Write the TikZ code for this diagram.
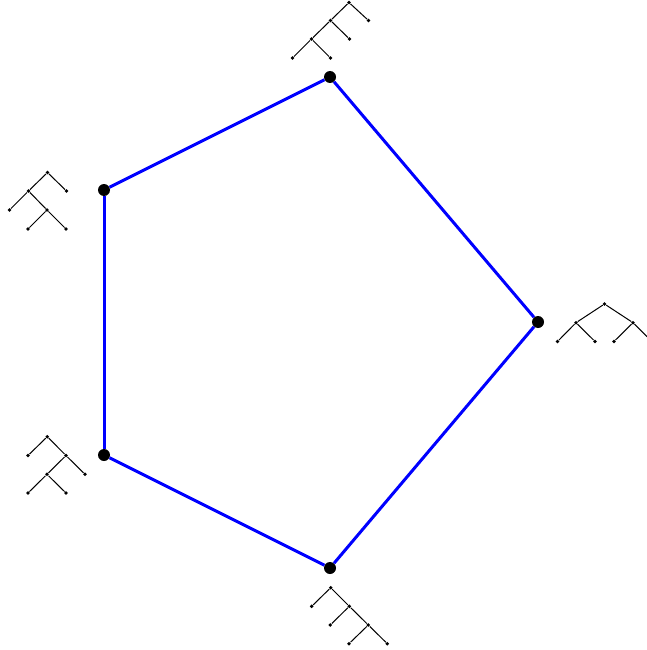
\documentclass[tikz,border=0pt]{standalone}
\begin{document}
\begin{tikzpicture}[x=1pt,y=-1pt,
  tdot/.style={circle,fill=black,inner sep=0pt,minimum size=3.8pt},
  vdot/.style={circle,fill=black,inner sep=0pt,minimum size=12pt},
  tedge/.style={draw=black,line width=1pt},
  pedge/.style={draw=blue,line width=3pt}]
\useasboundingbox (0,0) rectangle (647,650);
% pentagon vertices
\node[vdot] (v1) at (330,77) {};
\node[vdot] (v2) at (104,190) {};
\node[vdot] (v3) at (104,455) {};
\node[vdot] (v4) at (330,568) {};
\node[vdot] (v5) at (538,322) {};
\path[pedge] (v1) -- (v2);
\path[pedge] (v2) -- (v3);
\path[pedge] (v3) -- (v4);
\path[pedge] (v4) -- (v5);
\path[pedge] (v5) -- (v1);
% tree 1 (top): (((ab)c)d)
\node[tdot] (t1r) at (349,2.5) {};
\node[tdot] (t1a) at (330.5,20.5) {};
\node[tdot] (t1l1) at (368.5,20.5) {};
\node[tdot] (t1b) at (311.5,39) {};
\node[tdot] (t1l2) at (349.5,39) {};
\node[tdot] (t1l3) at (292.5,58) {};
\node[tdot] (t1l4) at (330.5,58) {};
\path[tedge] (t1r) -- (t1a) (t1r) -- (t1l1) (t1a) -- (t1b) (t1a) -- (t1l2) (t1b) -- (t1l3) (t1b) -- (t1l4);
% tree 2 (right): ((ab)(cd))
\node[tdot] (t2r) at (604.5,304) {};
\node[tdot] (t2a) at (576,322.7) {};
\node[tdot] (t2b) at (633,322.7) {};
\node[tdot] (t2l1) at (557.5,341.5) {};
\node[tdot] (t2l2) at (595,341.5) {};
\node[tdot] (t2l3) at (614,341.5) {};
\node[tdot] (t2l4) at (652,341.5) {};
\path[tedge] (t2r) -- (t2a) (t2r) -- (t2b) (t2a) -- (t2l1) (t2a) -- (t2l2) (t2b) -- (t2l3) (t2b) -- (t2l4);
% tree 3 (left top): ((a(bc))d)
\node[tdot] (t3r) at (47.5,172.5) {};
\node[tdot] (t3a) at (28.5,191) {};
\node[tdot] (t3l1) at (66.5,191) {};
\node[tdot] (t3l2) at (9.5,210) {};
\node[tdot] (t3b) at (47,210) {};
\node[tdot] (t3l3) at (28,229) {};
\node[tdot] (t3l4) at (66,229) {};
\path[tedge] (t3r) -- (t3a) (t3r) -- (t3l1) (t3a) -- (t3l2) (t3a) -- (t3b) (t3b) -- (t3l3) (t3b) -- (t3l4);
% tree 4 (left bottom): (a((bc)d))
\node[tdot] (t4r) at (47.3,436.7) {};
\node[tdot] (t4l1) at (28,455.5) {};
\node[tdot] (t4a) at (66,455.5) {};
\node[tdot] (t4b) at (47,474.3) {};
\node[tdot] (t4l2) at (85,474.3) {};
\node[tdot] (t4l3) at (28,493) {};
\node[tdot] (t4l4) at (66,493) {};
\path[tedge] (t4r) -- (t4l1) (t4r) -- (t4a) (t4a) -- (t4b) (t4a) -- (t4l2) (t4b) -- (t4l3) (t4b) -- (t4l4);
% tree 5 (bottom): (a(b(cd)))
\node[tdot] (t5r) at (330.7,587.7) {};
\node[tdot] (t5l1) at (311.7,606.3) {};
\node[tdot] (t5a) at (349.3,606.3) {};
\node[tdot] (t5l2) at (330.3,625) {};
\node[tdot] (t5b) at (368.3,625) {};
\node[tdot] (t5l3) at (349,643.7) {};
\node[tdot] (t5l4) at (387.3,643.7) {};
\path[tedge] (t5r) -- (t5l1) (t5r) -- (t5a) (t5a) -- (t5l2) (t5a) -- (t5b) (t5b) -- (t5l3) (t5b) -- (t5l4);
\end{tikzpicture}
\end{document}
